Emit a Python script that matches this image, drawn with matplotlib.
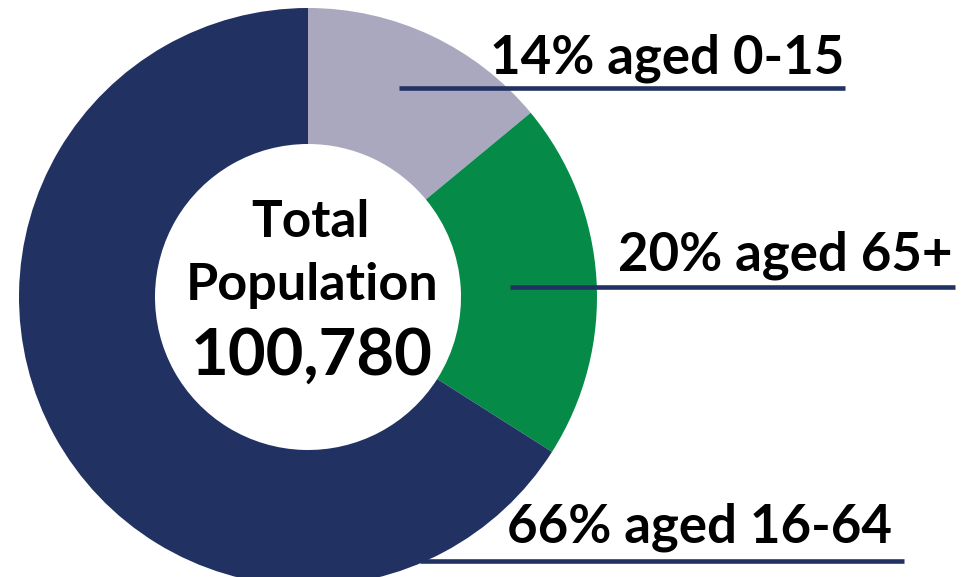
import matplotlib
matplotlib.use("Agg")
import matplotlib.pyplot as plt

labels = ["14% aged 0-15", "20% aged 65+", "66% aged 16-64"]
shares = [14, 20, 66]
colors = ["#A9A8BF", "#068A48", "#213262"]
center_lines = ["Total", "Population", "100,780"]

W, H = 970, 577
fig = plt.figure(figsize=(W / 100, H / 100), dpi=100)
ax = fig.add_axes([0, 0, 1, 1])

def py(y):
    return H - y

cx, cy, R = 308, py(297), 289
ax.pie(shares, colors=colors, startangle=90, counterclock=False,
       center=(cx, cy), radius=R,
       wedgeprops=dict(width=R - 153, linewidth=0))
ax.set_xlim(0, W)
ax.set_ylim(0, H)
ax.set_aspect("equal")
ax.axis("off")

font = "Lato"
# labels with underline
lab_pos = [(490, 73, 399, 845, 88), (618, 270, 510, 955, 287), (507, 543, 420, 904, 561)]
for lab, (tx, ty, lx0, lx1, ly) in zip(labels, lab_pos):
    ax.text(tx, py(ty), lab, fontsize=38, fontweight="bold", family=font,
            ha="left", va="baseline", color="black")
    ax.plot([lx0, lx1], [py(ly), py(ly)], color="#213262", lw=3.3,
            solid_capstyle="butt")

ax.text(310, py(237), center_lines[0], fontsize=37, fontweight="bold", family=font,
        ha="center", va="baseline")
ax.text(312, py(300), center_lines[1], fontsize=37.5, fontweight="bold", family=font,
        ha="center", va="baseline")
ax.text(312, py(375), center_lines[2], fontsize=47, fontweight="bold", family=font,
        ha="center", va="baseline")

fig.savefig("out.png", dpi=100)
